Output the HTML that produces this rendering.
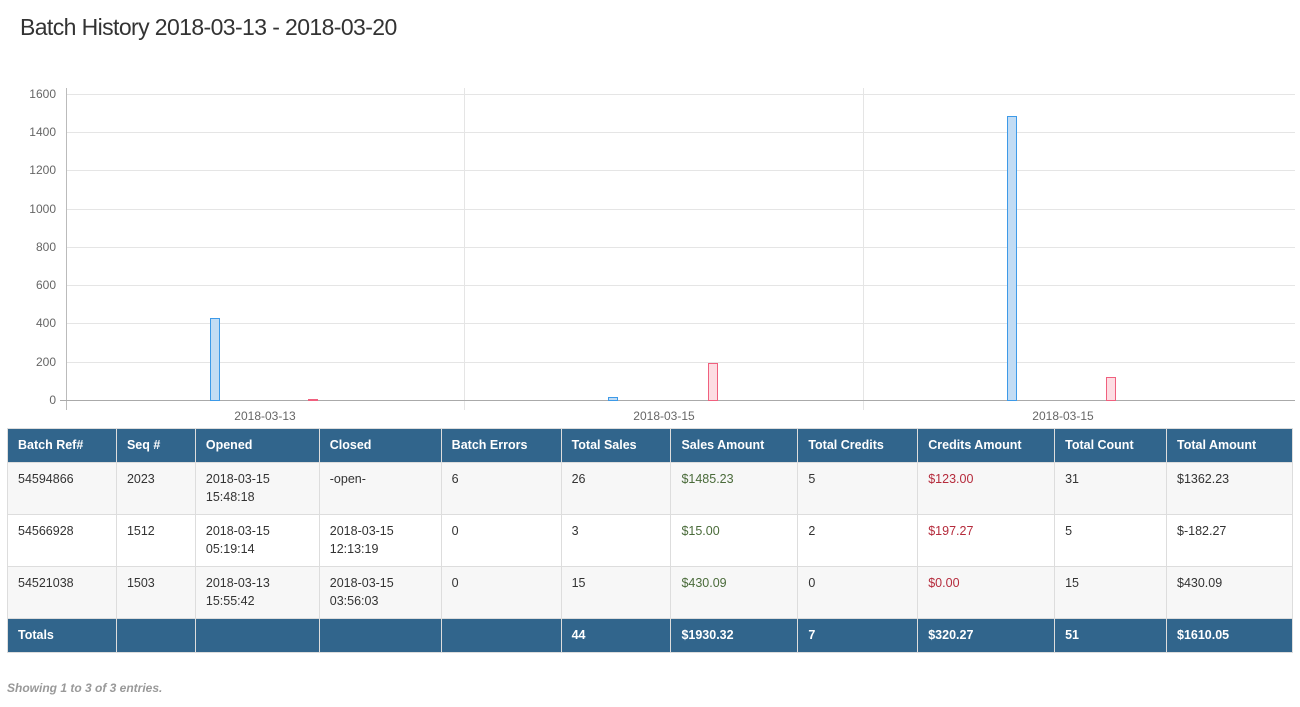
<!DOCTYPE html>
<html><head><meta charset="utf-8"><style>
body{margin:0;width:1300px;height:707px;background:#fff;font-family:"Liberation Sans",Arial,sans-serif;color:#333;position:relative;overflow:hidden}
h1{position:absolute;left:20px;top:14px;margin:0;font-weight:normal;font-size:23px;letter-spacing:-0.6px;color:#333}
svg{position:absolute;left:0;top:0}
table{position:absolute;left:7px;top:428px;border-collapse:collapse;font-size:12.5px;width:1286px}
td,th{border:1px solid #ddd;padding:0 10px;text-align:left;vertical-align:top}
th{background:#31658c;color:#fff;font-weight:bold;height:32px;vertical-align:middle;border-color:#ddd;padding-bottom:1px}
tbody td{height:52px;padding-top:7px;box-sizing:border-box;line-height:18px}
tbody tr:nth-child(odd) td{background:#f7f7f7}
tfoot td{background:#31658c;color:#fff;font-weight:bold;height:32px;vertical-align:middle;padding-bottom:1px}
.g{color:#4a6b3a}.r{color:#b52b3c}
.foot{position:absolute;left:7px;top:681px;font-size:12px;font-style:italic;font-weight:bold;color:#999}
</style></head><body>
<h1>Batch History 2018-03-13 - 2018-03-20</h1>
<svg width="1300" height="428" font-family="Liberation Sans, Arial, sans-serif" font-size="12" fill="#666">
<g stroke="#e5e5e5" stroke-width="1">
<line x1="66" x2="1295" y1="94.5" y2="94.5"/><line x1="66" x2="1295" y1="132.5" y2="132.5"/>
<line x1="66" x2="1295" y1="170.5" y2="170.5"/><line x1="66" x2="1295" y1="209.5" y2="209.5"/>
<line x1="66" x2="1295" y1="247.5" y2="247.5"/><line x1="66" x2="1295" y1="285.5" y2="285.5"/>
<line x1="66" x2="1295" y1="323.5" y2="323.5"/><line x1="66" x2="1295" y1="362.5" y2="362.5"/>
<line x1="464.5" x2="464.5" y1="88" y2="410"/><line x1="863.5" x2="863.5" y1="88" y2="410"/>
</g>
<line x1="66.5" x2="66.5" y1="88" y2="410" stroke="#bbb"/>
<line x1="60" x2="1295" y1="400.5" y2="400.5" stroke="#aaa"/>
<g text-anchor="end">
<text x="56" y="98">1600</text><text x="56" y="136">1400</text><text x="56" y="174">1200</text>
<text x="56" y="213">1000</text><text x="56" y="251">800</text><text x="56" y="289">600</text>
<text x="56" y="327">400</text><text x="56" y="366">200</text><text x="56" y="404">0</text>
</g>
<g text-anchor="middle">
<text x="265" y="420">2018-03-13</text><text x="664" y="420">2018-03-15</text><text x="1063" y="420">2018-03-15</text>
</g>
<g fill="#c2dcf4" stroke="#3d9ae8" stroke-width="1">
<rect x="210.5" y="318.5" width="9" height="82"/>
<rect x="608.5" y="397.5" width="9" height="3"/>
<rect x="1007.5" y="116.5" width="9" height="284"/>
</g>
<g fill="#fddde3" stroke="#f0607e" stroke-width="1">
<rect x="308.5" y="399.5" width="9" height="1"/>
<rect x="708.5" y="363.5" width="9" height="37"/>
<rect x="1106.5" y="377.5" width="9" height="23"/>
</g>
</svg>
<table>
<colgroup><col style="width:109px"><col style="width:79px"><col style="width:124px"><col style="width:122px"><col style="width:120px"><col style="width:110px"><col style="width:127px"><col style="width:120px"><col style="width:137px"><col style="width:112px"><col style="width:126px"></colgroup>
<thead><tr><th>Batch Ref#</th><th>Seq #</th><th>Opened</th><th>Closed</th><th>Batch Errors</th><th>Total Sales</th><th>Sales Amount</th><th>Total Credits</th><th>Credits Amount</th><th>Total Count</th><th>Total Amount</th></tr></thead>
<tbody>
<tr><td>54594866</td><td>2023</td><td>2018-03-15<br>15:48:18</td><td>-open-</td><td>6</td><td>26</td><td class="g">$1485.23</td><td>5</td><td class="r">$123.00</td><td>31</td><td>$1362.23</td></tr>
<tr><td>54566928</td><td>1512</td><td>2018-03-15<br>05:19:14</td><td>2018-03-15<br>12:13:19</td><td>0</td><td>3</td><td class="g">$15.00</td><td>2</td><td class="r">$197.27</td><td>5</td><td>$-182.27</td></tr>
<tr><td>54521038</td><td>1503</td><td>2018-03-13<br>15:55:42</td><td>2018-03-15<br>03:56:03</td><td>0</td><td>15</td><td class="g">$430.09</td><td>0</td><td class="r">$0.00</td><td>15</td><td>$430.09</td></tr>
</tbody>
<tfoot><tr><td>Totals</td><td></td><td></td><td></td><td></td><td>44</td><td>$1930.32</td><td>7</td><td>$320.27</td><td>51</td><td>$1610.05</td></tr></tfoot>
</table>
<div class="foot">Showing 1 to 3 of 3 entries.</div>
</body></html>
